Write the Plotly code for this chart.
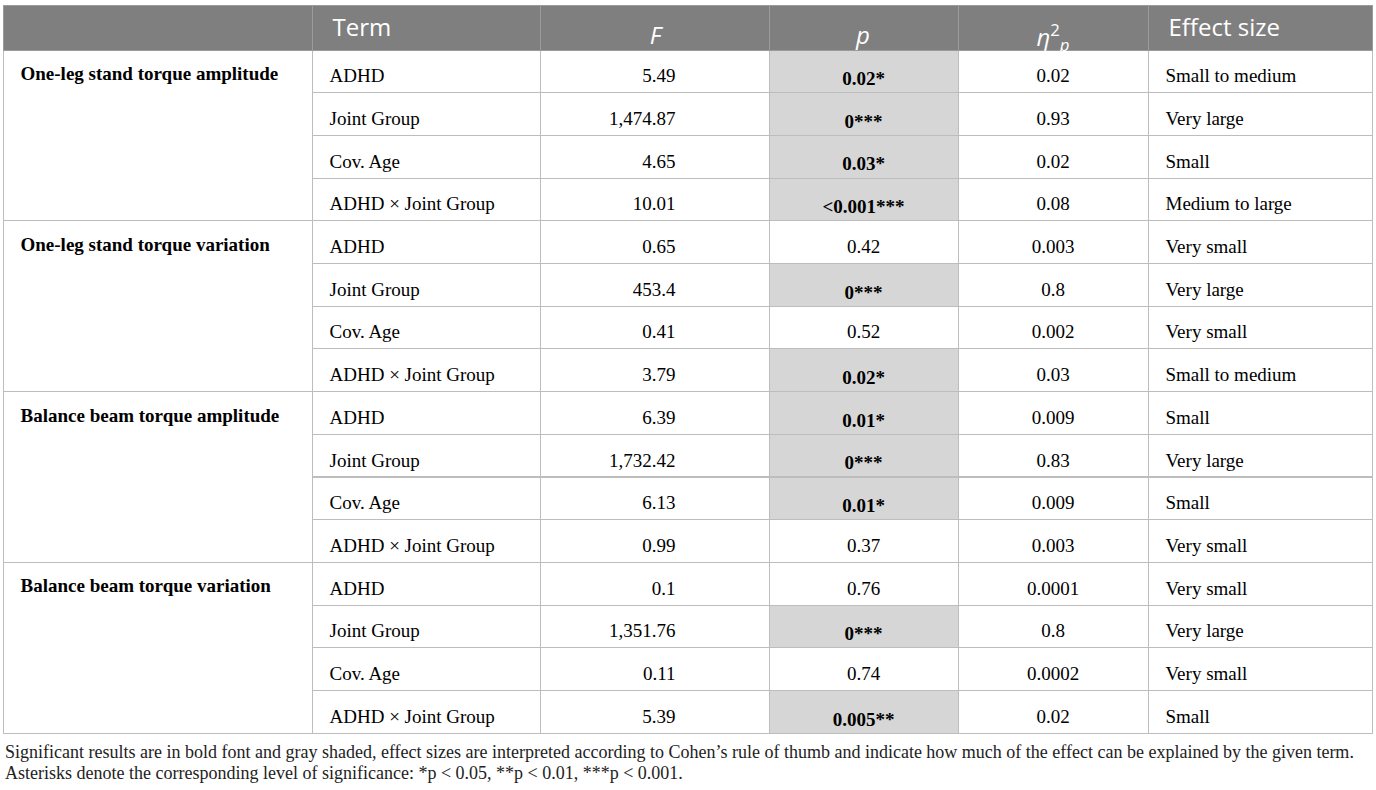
import plotly.graph_objects as go

W, H = 1376, 790

# ---- data ----
groups = [
    "One-leg stand torque amplitude",
    "One-leg stand torque variation",
    "Balance beam torque amplitude",
    "Balance beam torque variation",
]
terms = ["ADHD", "Joint Group", "Cov. Age", "ADHD \u00d7 Joint Group"] * 4
F_values = ["5.49", "1,474.87", "4.65", "10.01",
            "0.65", "453.4", "0.41", "3.79",
            "6.39", "1,732.42", "6.13", "0.99",
            "0.1", "1,351.76", "0.11", "5.39"]
p_values = ["0.02*", "0***", "0.03*", "<0.001***",
            "0.42", "0***", "0.52", "0.02*",
            "0.01*", "0***", "0.01*", "0.37",
            "0.76", "0***", "0.74", "0.005**"]
significant = [1, 1, 1, 1,
               0, 1, 0, 1,
               1, 1, 1, 0,
               0, 1, 0, 1]
eta_values = ["0.02", "0.93", "0.02", "0.08",
              "0.003", "0.8", "0.002", "0.03",
              "0.009", "0.83", "0.009", "0.003",
              "0.0001", "0.8", "0.0002", "0.02"]
effect_sizes = ["Small to medium", "Very large", "Small", "Medium to large",
                "Very small", "Very large", "Very small", "Small to medium",
                "Small", "Very large", "Small", "Very small",
                "Very small", "Very large", "Very small", "Small"]
headers = ["Term", "<i>F</i>", "<i>p</i>", "<i>\u03b7</i><sup>2</sup><sub><i>p</i></sub>", "Effect size"]
footnote1 = ("Significant results are in bold font and gray shaded, effect sizes are interpreted according to "
             "Cohen\u2019s rule of thumb and indicate how much of the effect can be explained by the given term.")
footnote2 = "Asterisks denote the corresponding level of significance: *p < 0.05, **p < 0.01, ***p < 0.001."

# ---- styling ----
HEADER_BG = "#7f7f7f"
HEADER_LINE = "#9c9a9a"
SHADE = "#d6d6d6"
LINE = "#bdbdbd"
SERIF = "Liberation Serif"
SANS = "Open Sans"
BODY_SIZE = 19
HEAD_SIZE = 24
ROW_H = 42.7
HEAD_H = 45
SHIFT_HEAD = 5      # downward text offset inside header cells (px)
SHIFT_GROUP = 5     # downward text offset for group labels (px)
SHIFT_BODY = 10     # downward text offset inside body cells (px)
NB = "\u00a0\u00a0"
F_PAD_BODY = "\u00a0" * 18
F_PAD_HEAD = "\u00a0" * 16
CLEAR = "rgba(0,0,0,0)"
NOLINE = dict(color=CLEAR, width=0)

top_px = 5
x0, x1, x2 = 3, 312, 1372
col_w = [228, 229, 189, 190, 224]
aligns = ["left", "right", "center", "center", "left"]

def ydom(offset):
    return [0, 1 - (top_px + offset) / H]

p_text = [f"<b>{p}</b>" if s else p for p, s in zip(p_values, significant)]
p_fill = [SHADE if s else "white" for s in significant]
white16 = ["white"] * 16

head_font = dict(family=SANS, size=HEAD_SIZE, color="white")
body_font = dict(family=SERIF, size=BODY_SIZE, color="black")
tiny_font = dict(family=SERIF, size=1, color=CLEAR)

fig = go.Figure()

# ---- background layer (fills + grid lines, no text) ----
fig.add_trace(go.Table(
    domain=dict(x=[x0 / W, x1 / W], y=ydom(0)),
    columnwidth=[1],
    header=dict(values=[""], fill_color=HEADER_BG, line=dict(color=HEADER_LINE, width=1),
                height=HEAD_H, font=head_font),
    cells=dict(values=[[""] * len(groups)], fill_color="white",
               line=dict(color=LINE, width=1), height=4 * ROW_H, font=body_font),
))
fig.add_trace(go.Table(
    domain=dict(x=[x1 / W, x2 / W], y=ydom(0)),
    columnwidth=col_w,
    header=dict(values=[""] * 5, fill_color=HEADER_BG, line=dict(color=HEADER_LINE, width=1),
                height=HEAD_H, font=head_font),
    cells=dict(values=[[""] * 16] * 5,
               fill_color=[white16, white16, p_fill, white16, white16],
               line=dict(color=LINE, width=1), height=ROW_H, font=body_font),
))

# ---- header text layer ----
fig.add_trace(go.Table(
    domain=dict(x=[x1 / W, x2 / W], y=ydom(SHIFT_HEAD)),
    columnwidth=col_w,
    header=dict(values=[NB + headers[0], headers[1] + F_PAD_HEAD, headers[2], headers[3], NB + headers[4]],
                fill_color=CLEAR, line=NOLINE, align=aligns, height=HEAD_H, font=head_font),
    cells=dict(values=[[""]] * 5, fill_color=CLEAR, line=NOLINE, height=1, font=tiny_font),
))

# ---- body text layer (transparent, shifted down to centre the text) ----
fig.add_trace(go.Table(
    domain=dict(x=[x0 / W, x1 / W], y=ydom(0)),
    columnwidth=[1],
    header=dict(values=[""], fill_color=CLEAR, line=NOLINE,
                height=HEAD_H + SHIFT_GROUP, font=tiny_font),
    cells=dict(values=[[NB + f"<b>{g}</b>" for g in groups]],
               fill_color=CLEAR, line=NOLINE,
               align="left", height=4 * ROW_H, font=body_font),
))
fig.add_trace(go.Table(
    domain=dict(x=[x1 / W, x2 / W], y=ydom(0)),
    columnwidth=col_w,
    header=dict(values=[""] * 5, fill_color=CLEAR, line=NOLINE,
                height=HEAD_H + SHIFT_BODY, font=tiny_font),
    cells=dict(values=[[NB + t for t in terms],
                       [f + F_PAD_BODY for f in F_values],
                       p_text,
                       eta_values,
                       [NB + e for e in effect_sizes]],
               fill_color=CLEAR, line=NOLINE,
               align=aligns, height=ROW_H, font=body_font),
))

fig.add_annotation(text=footnote1, xref="paper", yref="paper", x=3 / W, y=1 - 752 / H,
                   xanchor="left", yanchor="middle", showarrow=False,
                   font=dict(family=SERIF, size=18, color="#222222"))
fig.add_annotation(text=footnote2, xref="paper", yref="paper", x=3 / W, y=1 - 773 / H,
                   xanchor="left", yanchor="middle", showarrow=False,
                   font=dict(family=SERIF, size=18, color="#222222"))

fig.update_layout(width=W, height=H, margin=dict(l=0, r=0, t=0, b=0),
                  paper_bgcolor="white", plot_bgcolor="white")

fig.write_html("out.html", config={"displayModeBar": False},
               post_script="document.body.style.margin='0px';document.body.style.padding='0px';")
